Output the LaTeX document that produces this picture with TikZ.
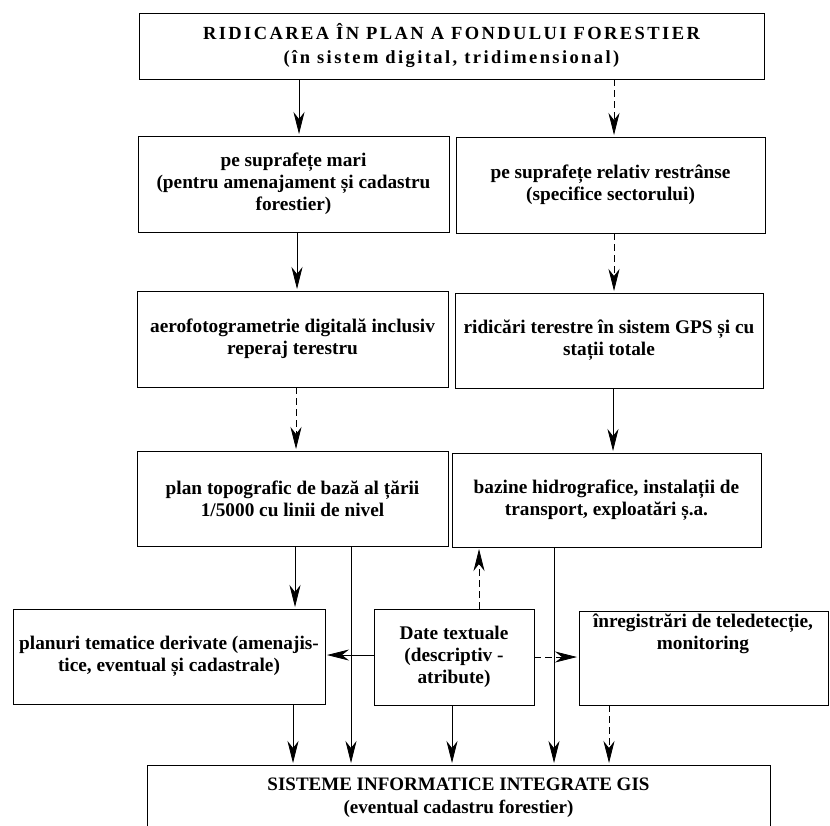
\documentclass[tikz,border=0pt]{standalone}
\usepackage{fontspec}
\setmainfont{Liberation Serif}
\newfontfamily\spacedfont{Liberation Serif}[LetterSpace=13]
\usetikzlibrary{arrows.meta}
\begin{document}
\begin{tikzpicture}[x=1pt,y=-1pt,
  box/.style={draw, line width=1pt, rectangle, anchor=north west, inner sep=0pt, outer sep=0pt,
    align=center, font=\fontsize{19.3}{22}\selectfont\bfseries},
  txt/.style={inner sep=0pt, align=center, font=\fontsize{19.3}{22}\selectfont\bfseries},
  arr/.style={line width=0.7pt, shorten >=2pt, -{Stealth[length=22pt,width=11pt,inset=7pt]}},
  dsh/.style={dash pattern=on 7pt off 4pt}]
\path[use as bounding box] (0,0) rectangle (830,825);
\clip (0,0) rectangle (830,825);

% boxes
\node[box, minimum width=625pt, minimum height=66pt, font=\fontsize{18.5}{24}\selectfont\bfseries\spacedfont] (top) at (139,13)
  {RIDICAREA ÎN PLAN A FONDULUI FORESTIER\\(în sistem digital, tridimensional)};
\node[box, minimum width=311pt, minimum height=96pt] (L2) at (138,136)
  {pe suprafețe mari\\(pentru amenajament și cadastru\\forestier)};
\node[box, minimum width=309pt, minimum height=96pt] (R2) at (456,137)
  {pe suprafețe relativ restrânse\\(specifice sectorului)};
\node[box, minimum width=311pt, minimum height=96pt] (L3) at (137,291)
  {aerofotogrametrie digitală inclusiv\\reperaj terestru};
\node[box, minimum width=308pt, minimum height=95pt] (R3) at (455,293)
  {ridicări terestre în sistem GPS și cu\\stații totale};
\node[box, minimum width=311pt, minimum height=95pt] (L4) at (137,451)
  {plan topografic de bază al țării\\1/5000 cu linii de nivel};
\node[box, minimum width=309pt, minimum height=94pt] (R4) at (452,453)
  {bazine hidrografice, instalații de\\transport, exploatări ș.a.};
\node[box, minimum width=312pt, minimum height=95pt] (plan) at (13,609)
  {planuri tematice derivate (amenajis-\\tice, eventual și cadastrale)};
\node[box, minimum width=160pt, minimum height=96pt] (date) at (374,609)
  {Date textuale\\(descriptiv -\\atribute)};
\node[box, minimum width=249pt, minimum height=94pt] (tele) at (579,611) {};
\node[txt] (teletxt) at (703,634) {înregistrări de teledetecție,\\monitoring};
\node[box, minimum width=623pt, minimum height=66pt, font=\fontsize{19}{23}\selectfont\bfseries] (gis) at (147,765)
  {SISTEME INFORMATICE INTEGRATE GIS\\(eventual cadastru forestier)};

% x / y positions of connectors
\coordinate (x1) at (299,0);
\coordinate (x2) at (614,0);
\coordinate (x3) at (297,0);
\coordinate (x4) at (296,0);
\coordinate (x5) at (613,0);
\coordinate (x6) at (295,0);
\coordinate (x7) at (351,0);
\coordinate (x8) at (293,0);
\coordinate (x9) at (452,0);
\coordinate (x10) at (479,0);
\coordinate (x11) at (554,0);
\coordinate (x12) at (609,0);
\coordinate (y1) at (0,655);
\coordinate (y2) at (0,657);

% connectors
\draw[arr] (top.south -| x1) -- (L2.north -| x1);
\draw[arr, dsh] (top.south -| x2) -- (R2.north -| x2);
\draw[arr] (L2.south -| x3) -- (L3.north -| x3);
\draw[arr, dsh] (R2.south -| x2) -- (R3.north -| x2);
\draw[arr, dsh] (L3.south -| x4) -- (L4.north -| x4);
\draw[arr] (R3.south -| x5) -- (R4.north -| x5);
\draw[arr] (L4.south -| x6) -- (plan.north -| x6);
\draw[arr] (L4.south -| x7) -- (gis.north -| x7);
\draw[arr] (date.west |- y1) -- (plan.east |- y1);
\draw[arr] (plan.south -| x8) -- (gis.north -| x8);
\draw[arr] (date.south -| x9) -- (gis.north -| x9);
\draw[arr, dsh] (date.north -| x10) -- (R4.south -| x10);
\draw[arr] (R4.south -| x11) -- (gis.north -| x11);
\draw[arr, dsh] (date.east |- y2) -- (tele.west |- y2);
\draw[arr, dsh] (tele.south -| x12) -- (gis.north -| x12);
\end{tikzpicture}
\end{document}
